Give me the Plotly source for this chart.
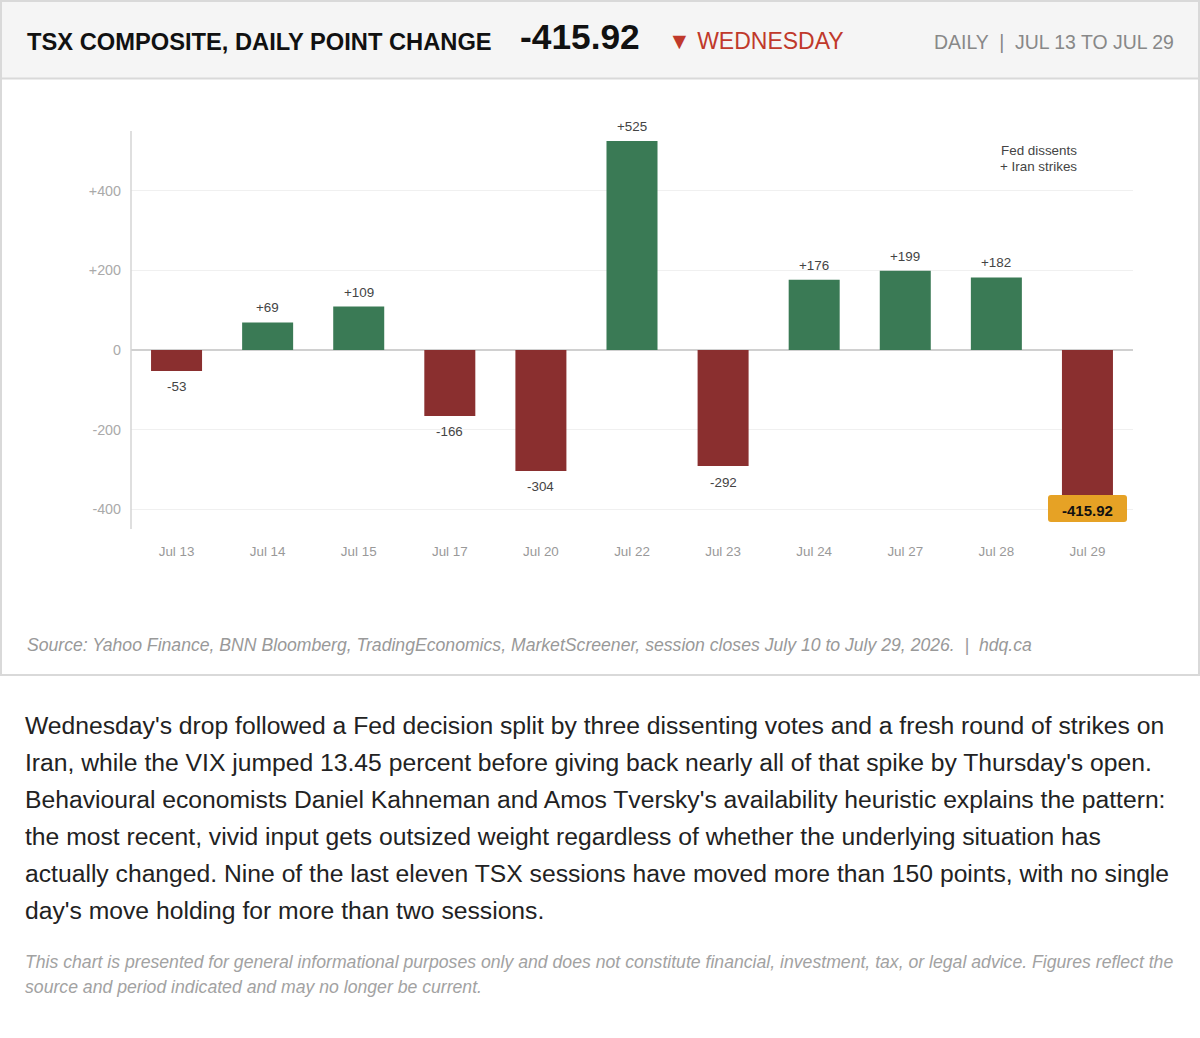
import plotly.graph_objects as go

W = 1200
H = 1038
FONT = "Liberation Sans, Arial, sans-serif"

# Session data
dates = ["Jul 13", "Jul 14", "Jul 15", "Jul 17", "Jul 20", "Jul 22", "Jul 23", "Jul 24", "Jul 27", "Jul 28", "Jul 29"]
changes = [-53, 69, 109, -166, -304, 525, -292, 176, 199, 182, -415.92]
bar_labels = ["-53", "+69", "+109", "-166", "-304", "+525", "-292", "+176", "+199", "+182", ""]
y_ticks = [-400, -200, 0, 200, 400]
y_tick_labels = ["-400", "-200", "0", "+200", "+400"]

paragraph = [
    "Wednesday's drop followed a Fed decision split by three dissenting votes and a fresh round of strikes on",
    "Iran, while the VIX jumped 13.45 percent before giving back nearly all of that spike by Thursday's open.",
    "Behavioural economists Daniel Kahneman and Amos Tversky's availability heuristic explains the pattern:",
    "the most recent, vivid input gets outsized weight regardless of whether the underlying situation has",
    "actually changed. Nine of the last eleven TSX sessions have moved more than 150 points, with no single",
    "day's move holding for more than two sessions.",
]
disclaimer = [
    "This chart is presented for general informational purposes only and does not constitute financial, investment, tax, or legal advice. Figures reflect the",
    "source and period indicated and may no longer be current.",
]
source = "Source: Yahoo Finance, BNN Bloomberg, TradingEconomics, MarketScreener, session closes July 10 to July 29, 2026.  |  hdq.ca"


# pixel position on the page -> paper fraction
def px(x):
    return x / W


def py(y):
    return 1 - y / H


def text_at(x, y, text, size, color, anchor="left", bold=False, italic=False):
    if bold:
        text = "<b>" + text + "</b>"
    if italic:
        text = "<i>" + text + "</i>"
    return dict(x=px(x), y=py(y), xref="paper", yref="paper", text=text, showarrow=False,
                xanchor=anchor, yanchor="middle", align=anchor,
                font=dict(family=FONT, size=size, color=color))


colors = ["#3a7a55" if v > 0 else "#8a2f2f" for v in changes]

fig = go.Figure()
fig.add_trace(go.Bar(x=dates, y=changes, marker=dict(color=colors, line_width=0), width=0.56, hoverinfo="x+y"))

annotations = []

# value labels above / below the bars
for d, v, lab in zip(dates, changes, bar_labels):
    if lab:
        annotations.append(dict(x=d, y=v, xref="x", yref="y", text=lab, showarrow=False,
                                yshift=14.5 if v > 0 else -16, xanchor="center", yanchor="middle",
                                font=dict(family=FONT, size=13.4, color="#444444")))

# badge text for the last session
annotations.append(dict(x=dates[-1], y=changes[-1], xref="x", yref="y", text="<b>%.2f</b>" % changes[-1],
                        showarrow=False, yshift=5, xanchor="center", yanchor="middle",
                        font=dict(family=FONT, size=15, color="#111111")))

annotations.append(text_at(1079, 150.5, "Fed dissents", 13.4, "#444444", anchor="right"))
annotations.append(text_at(1079, 166, "+ Iran strikes", 13.4, "#444444", anchor="right"))

# header strip
annotations.append(text_at(25, 42, "TSX COMPOSITE, DAILY POINT CHANGE", 23.7, "#111111", bold=True))
annotations.append(text_at(518, 37, "-415.92", 35.3, "#111111", bold=True))
annotations.append(text_at(666, 41, "▼ WEDNESDAY", 23, "#c0392b"))
annotations.append(text_at(1176, 42, "DAILY  |  JUL 13 TO JUL 29", 19.45, "#888888", anchor="right"))

annotations.append(text_at(25, 645, source, 17.64, "#999999", italic=True))

for i, line in enumerate(paragraph):
    annotations.append(text_at(23, 725 + i * 37, line, 24.7, "#222222"))
for i, line in enumerate(disclaimer):
    annotations.append(text_at(23, 961.5 + i * 25, line, 17.65, "#a2a2a2", italic=True))

border = "#d9d9d9"
shapes = [
    # chart panel
    dict(type="rect", xref="paper", yref="paper", x0=px(1), x1=px(1199), y0=py(1), y1=py(675),
         line=dict(color=border, width=2), fillcolor="rgba(0,0,0,0)", layer="below"),
    # header
    dict(type="rect", xref="paper", yref="paper", x0=px(1), x1=px(1199), y0=py(1), y1=py(78.5),
         line=dict(color=border, width=2), fillcolor="#f5f5f5", layer="below"),
    # left axis line
    dict(type="line", xref="paper", yref="paper", x0=px(131), x1=px(131), y0=py(131), y1=py(529),
         line=dict(color="#d4d4d4", width=1.5), layer="above"),
    # badge over the last bar
    dict(type="path", xref="paper", yref="paper", layer="above", line_width=0, fillcolor="#e6a225",
         path="M %f %f L %f %f Q %f %f %f %f L %f %f Q %f %f %f %f L %f %f Q %f %f %f %f L %f %f Q %f %f %f %f Z" % (
             px(1051), py(495),
             px(1124), py(495), px(1127), py(495), px(1127), py(498),
             px(1127), py(519), px(1127), py(522), px(1124), py(522),
             px(1051), py(522), px(1048), py(522), px(1048), py(519),
             px(1048), py(498), px(1048), py(495), px(1051), py(495))),
]

fig.update_layout(
    width=W,
    height=H,
    autosize=False,
    margin=dict(l=0, r=0, t=0, b=0),
    paper_bgcolor="#ffffff",
    plot_bgcolor="rgba(0,0,0,0)",
    showlegend=False,
    annotations=annotations,
    shapes=shapes,
    xaxis=dict(domain=[px(131), px(1133)], type="category", showgrid=False, zeroline=False, showline=False,
               ticks="", ticklabelstandoff=13, tickfont=dict(family=FONT, size=13.4, color="#999999")),
    yaxis=dict(domain=[py(529), py(131)], range=[-450, 550], tickmode="array", tickvals=y_ticks,
               ticktext=y_tick_labels, showgrid=True, gridcolor="#f0f0f0", gridwidth=1,
               zeroline=True, zerolinecolor="#d0d0d0", zerolinewidth=2,
               showline=False, ticks="", ticklabelstandoff=9,
               tickfont=dict(family=FONT, size=14.3, color="#aaaaaa")),
)

# the page's default body margin would push the figure off the window
fig.write_html("out.html", config=dict(displayModeBar=False),
               post_script="document.body.style.margin='0';")
